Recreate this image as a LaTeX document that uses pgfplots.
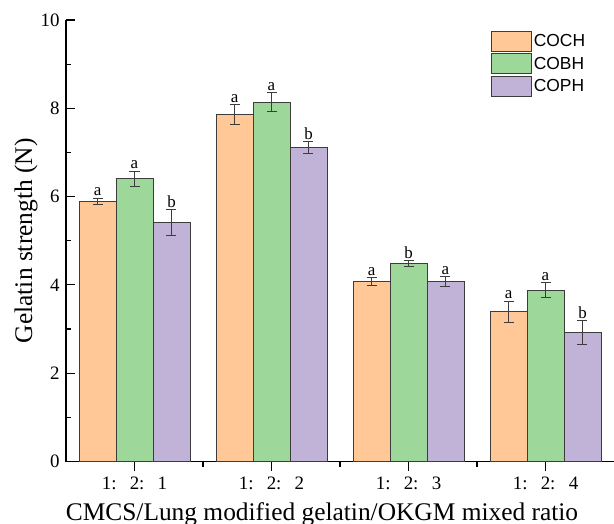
\documentclass[border=0pt]{standalone}
\usepackage{pgfplots}
\pgfplotsset{compat=1.18}
\usepackage{fontspec}
\setmainfont{Liberation Serif}
\newfontfamily\arial{Liberation Sans}
\definecolor{cOr}{RGB}{255,200,150}
\definecolor{cGr}{RGB}{157,216,154}
\definecolor{cPu}{RGB}{193,178,216}
\definecolor{edge}{RGB}{60,60,60}
\begin{document}
\begin{tikzpicture}
\begin{axis}[
  name=ax,
  scale only axis,
  width=548bp, height=441.5bp,
  xmin=-0.5, xmax=3.5, ymin=0, ymax=10,
  axis x line=bottom, axis y line=left,
  axis line style={-, line width=1.3pt, black},
  tick align=inside,
  xtick={0,1,2,3},
  xticklabels={{1:\hspace{0.7em}2:\hspace{0.7em}1},{1:\hspace{0.7em}2:\hspace{0.7em}2},{1:\hspace{0.7em}2:\hspace{0.7em}3},{1:\hspace{0.7em}2:\hspace{0.7em}4}},
  minor xtick={0.5,1.5,2.5},
  ytick={0,2,4,6,8,10},
  minor ytick={1,3,5,7,9},
  major tick length=9bp, minor tick length=5bp,
  tick style={line width=1.2pt, black},
  /pgf/number format/assume math mode=true,
  ticklabel style={font=\fontsize{19}{21}\selectfont},
  xticklabel style={yshift=-3bp},
  yticklabel style={xshift=-3bp},
  xlabel={CMCS/Lung modified gelatin/OKGM mixed ratio},
  ylabel={Gelatin strength (N)},
  label style={font=\fontsize{25.5}{27}\selectfont},
  xlabel style={xshift=-18bp, yshift=-6bp},
  ylabel style={yshift=-4bp},
  ybar=0pt, bar width=0.27,
  legend style={at={(axis description cs:0.7755,0.976)}, anchor=north west,
    draw=none, fill=none, inner sep=0pt, outer sep=0pt, row sep=2bp,
    font=\arial\fontsize{17.5}{19}\selectfont},
  legend cell align=left,
  legend image code/.code={\draw[#1, line width=0.8pt] (0bp,-10bp) rectangle (40bp,10bp);},
  error bars/y dir=both, error bars/y explicit,
  error bars/error bar style={line width=0.8pt, color=edge},
  error bars/error mark options={rotate=90, mark size=5bp, line width=0.8pt, color=edge},
  nodes near coords style={font=\fontsize{17}{18}\selectfont, inner sep=2bp},
]
\addplot[fill=cOr, draw=edge, line width=0.9pt, bar shift=-0.27] coordinates {
  (0,5.89) +- (0,0.07)
  (1,7.86) +- (0,0.22)
  (2,4.08) +- (0,0.09)
  (3,3.39) +- (0,0.24)
};
\addlegendentry{COCH}
\addplot[fill=cGr, draw=edge, line width=0.9pt, bar shift=0] coordinates {
  (0,6.40) +- (0,0.18)
  (1,8.14) +- (0,0.22)
  (2,4.48) +- (0,0.07)
  (3,3.88) +- (0,0.17)
};
\addlegendentry{COBH}
\addplot[fill=cPu, draw=edge, line width=0.9pt, bar shift=0.27] coordinates {
  (0,5.42) +- (0,0.29)
  (1,7.11) +- (0,0.14)
  (2,4.08) +- (0,0.11)
  (3,2.92) +- (0,0.27)
};
\addlegendentry{COPH}
% significance letters
\addplot[draw=none, fill=none, bar shift=-0.27, forget plot, nodes near coords, point meta=explicit symbolic] coordinates {
  (0,5.96)[a] (1,8.08)[a] (2,4.17)[a] (3,3.63)[a]
};
\addplot[draw=none, fill=none, bar shift=0, forget plot, nodes near coords, point meta=explicit symbolic] coordinates {
  (0,6.58)[a] (1,8.36)[a] (2,4.55)[b] (3,4.05)[a]
};
\addplot[draw=none, fill=none, bar shift=0.27, forget plot, nodes near coords, point meta=explicit symbolic] coordinates {
  (0,5.71)[b] (1,7.25)[b] (2,4.19)[a] (3,3.19)[b]
};
\end{axis}
\pgfresetboundingbox
\path ([xshift=-66bp,yshift=-62.5bp]ax.south west) rectangle ([yshift=20bp]ax.north east);
\end{tikzpicture}
\end{document}
